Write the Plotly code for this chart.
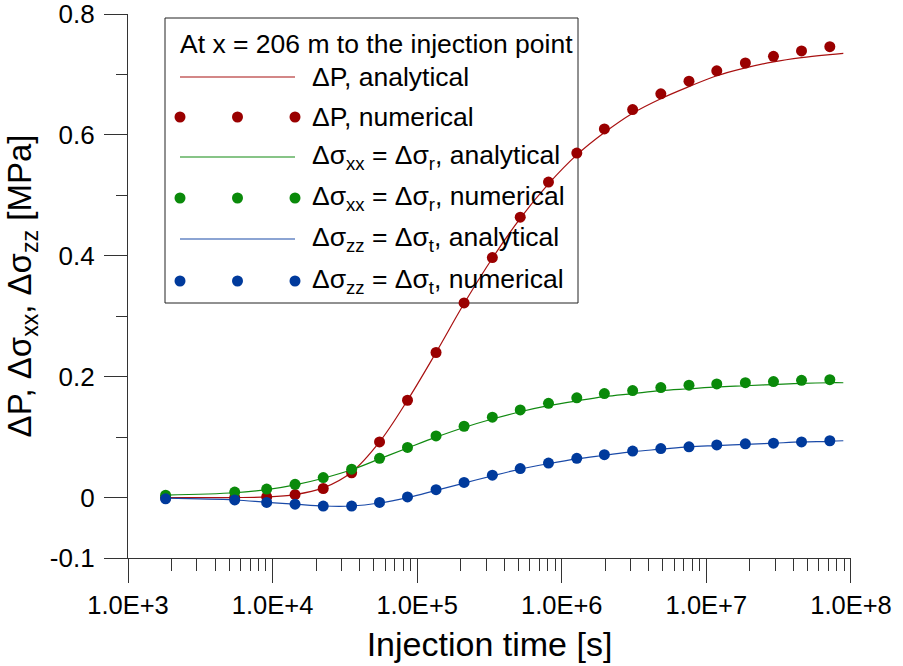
import plotly.graph_objects as go

# ---------------- data ----------------
t_num = [1.82e3, 5.47e3, 9.10e3, 1.43e4, 2.24e4, 3.52e4, 5.49e4, 8.57e4, 1.35e5, 2.11e5,
         3.31e5, 5.16e5, 8.09e5, 1.27e6, 1.97e6, 3.09e6, 4.84e6, 7.58e6, 1.18e7, 1.86e7,
         2.91e7, 4.55e7, 7.14e7]
dp_num = [0.000, 0.000, 0.001, 0.005, 0.015, 0.041, 0.092, 0.161, 0.240, 0.322,
          0.397, 0.464, 0.522, 0.570, 0.610, 0.642, 0.668, 0.689, 0.706, 0.719,
          0.730, 0.739, 0.746]
sxx_num = [0.004, 0.009, 0.014, 0.022, 0.033, 0.047, 0.065, 0.083, 0.102, 0.118,
           0.133, 0.145, 0.156, 0.165, 0.172, 0.177, 0.182, 0.186, 0.188, 0.190,
           0.192, 0.194, 0.195]
szz_num = [-0.002, -0.004, -0.008, -0.011, -0.014, -0.014, -0.008, 0.001, 0.013, 0.025,
           0.037, 0.048, 0.057, 0.065, 0.071, 0.077, 0.081, 0.084, 0.087, 0.089,
           0.090, 0.092, 0.094]

t_ana = [1.82e3, 5.47e3, 9.10e3, 1.43e4, 2.24e4, 3.52e4, 5.49e4, 8.57e4, 1.35e5, 2.11e5,
         3.31e5, 5.16e5, 8.09e5, 1.27e6, 1.97e6, 3.09e6, 4.84e6, 7.58e6, 1.18e7, 1.86e7,
         2.91e7, 4.55e7, 7.14e7, 8.85e7]
dp_ana = [0.000, 0.000, 0.001, 0.005, 0.016, 0.042, 0.092, 0.161, 0.240, 0.321,
          0.396, 0.462, 0.519, 0.567, 0.604, 0.636, 0.660, 0.680, 0.698, 0.711,
          0.721, 0.728, 0.733, 0.735]
sxx_ana = [0.004, 0.008, 0.013, 0.021, 0.032, 0.046, 0.064, 0.082, 0.100, 0.116,
           0.130, 0.142, 0.152, 0.160, 0.167, 0.172, 0.177, 0.180, 0.183, 0.185,
           0.187, 0.189, 0.190, 0.190]
szz_ana = [-0.001, -0.004, -0.008, -0.011, -0.014, -0.014, -0.009, 0.000, 0.012, 0.024,
           0.036, 0.047, 0.056, 0.064, 0.070, 0.076, 0.080, 0.084, 0.086, 0.088,
           0.090, 0.092, 0.093, 0.094]

y_tickvals = [-0.1, 0, 0.2, 0.4, 0.6, 0.8]
y_ticktext = ["-0.1", "0", "0.2", "0.4", "0.6", "0.8"]
y_minor = [0.1, 0.3, 0.5, 0.7]
x_tickvals = [1e3, 1e4, 1e5, 1e6, 1e7, 1e8]
x_ticktext = ["1.0E+3", "1.0E+4", "1.0E+5", "1.0E+6", "1.0E+7", "1.0E+8"]
x_minor = [k * 10 ** d for d in range(3, 8) for k in range(2, 10)]

legend_title = "At x = 206 m to the injection point"
legend_labels = [
    "ΔP, analytical",
    "ΔP, numerical",
    "Δσ<sub>xx</sub> = Δσ<sub>r</sub>, analytical",
    "Δσ<sub>xx</sub> = Δσ<sub>r</sub>, numerical",
    "Δσ<sub>zz</sub> = Δσ<sub>t</sub>, analytical",
    "Δσ<sub>zz</sub> = Δσ<sub>t</sub>, numerical",
]

RED, GREEN, BLUE = "#9a0000", "#0a8a0a", "#003a9c"
RED_L, GREEN_L, BLUE_L = "#a81010", "#118a11", "#1a4aa8"
FONT = "Liberation Sans, Arial, sans-serif"

# ---------------- figure ----------------
W, H = 903, 666
L, R, T, B = 128, 52, 14, 108
PW, PH = W - L - R, H - T - B

fig = go.Figure()
for t, y, c in [(t_ana, dp_ana, RED_L), (t_ana, sxx_ana, GREEN_L), (t_ana, szz_ana, BLUE_L)]:
    fig.add_trace(go.Scatter(x=t, y=y, mode="lines", line=dict(color=c, width=1.2, shape="spline"),
                             showlegend=False, hoverinfo="skip"))
for t, y, c in [(t_num, dp_num, RED), (t_num, sxx_num, GREEN), (t_num, szz_num, BLUE)]:
    fig.add_trace(go.Scatter(x=t, y=y, mode="markers", marker=dict(color=c, size=11),
                             showlegend=False, cliponaxis=False))


def px(xp):
    return (xp - L) / PW


def py(yp):
    return (H - B - yp) / PH


shapes = []
annotations = []
# legend box
shapes.append(dict(type="rect", xref="paper", yref="paper", x0=px(165), x1=px(578),
                   y0=py(303), y1=py(18), line=dict(color="#222222", width=1),
                   fillcolor="white", layer="below"))
LFS = 26.5
annotations.append(dict(xref="paper", yref="paper", x=px(178), y=py(44), text=legend_title,
                        showarrow=False, xanchor="left", yanchor="middle",
                        font=dict(size=LFS, color="black", family=FONT)))
row_y = [77, 117, 157, 198, 239, 281]
cols_line = [RED_L, GREEN_L, BLUE_L]
cols_dot = [RED, GREEN, BLUE]
for i, lab in enumerate(legend_labels):
    yy = row_y[i]
    k = i // 2
    if i % 2 == 0:
        shapes.append(dict(type="line", xref="paper", yref="paper", x0=px(180), x1=px(295),
                           y0=py(yy), y1=py(yy), line=dict(color=cols_line[k], width=1.2)))
    else:
        for xc in [180, 237.5, 295]:
            r = 5.5
            shapes.append(dict(type="circle", xref="paper", yref="paper",
                               x0=px(xc - r), x1=px(xc + r), y0=py(yy + r), y1=py(yy - r),
                               fillcolor=cols_dot[k], line=dict(color=cols_dot[k], width=0)))
    annotations.append(dict(xref="paper", yref="paper", x=px(310), y=py(yy), text=lab,
                            showarrow=False, xanchor="left", yanchor="middle",
                            font=dict(size=LFS, color="black", family=FONT)))

axis_color = "#333333"
fig.update_layout(
    width=W, height=H,
    margin=dict(l=L, r=R, t=T, b=B, autoexpand=False),
    paper_bgcolor="white", plot_bgcolor="white",
    font=dict(family=FONT, color="black"),
    shapes=shapes, annotations=annotations,
    xaxis=dict(
        type="log", range=[3, 8.0001], showgrid=False, zeroline=False, automargin=False,
        showline=True, linecolor=axis_color, linewidth=1.3, ticklabeloverflow="allow",
        ticks="outside", ticklen=24, tickwidth=1.3, tickcolor=axis_color,
        tickvals=x_tickvals, ticktext=x_ticktext, tickfont=dict(size=25.5),
        minor=dict(tickvals=x_minor, ticks="outside", ticklen=12, tickwidth=1.1,
                   tickcolor=axis_color, showgrid=False),
        title=dict(text="Injection time [s]", font=dict(size=34), standoff=14),
    ),
    yaxis=dict(
        range=[-0.1, 0.8001], showgrid=False, zeroline=False, automargin=False,
        showline=True, linecolor=axis_color, linewidth=1.3, ticklabeloverflow="allow",
        ticks="outside", ticklen=23, tickwidth=1.3, tickcolor=axis_color,
        tickvals=y_tickvals, ticktext=y_ticktext, tickfont=dict(size=26),
        ticklabelstandoff=4,
        minor=dict(tickvals=y_minor, ticks="outside", ticklen=11, tickwidth=1.1,
                   tickcolor=axis_color, showgrid=False),
        title=dict(text="ΔP, Δσ<sub>xx</sub>, Δσ<sub>zz</sub> [MPa]", font=dict(size=33), standoff=8),
    ),
)

fig.write_html("out.html", config={"displayModeBar": False},
               post_script="document.body.style.margin='0';")
